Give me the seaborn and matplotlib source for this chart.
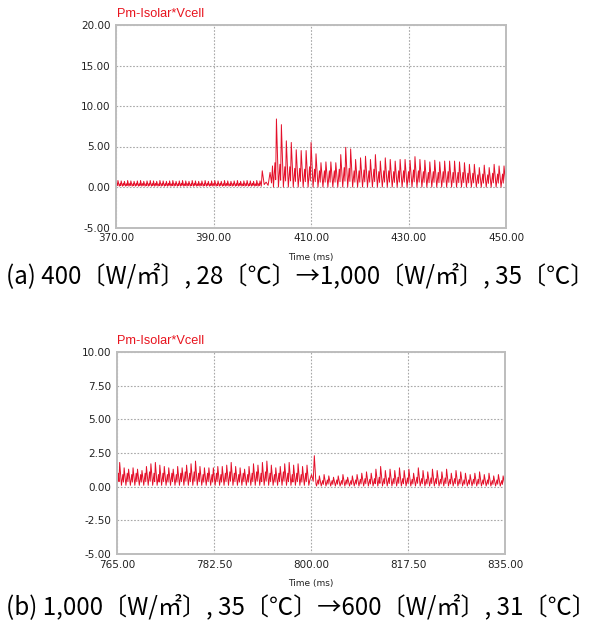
import numpy as np
import pandas as pd
import matplotlib.pyplot as plt
import seaborn as sns

# ---- (a) 400 W/m2, 28C -> 1000 W/m2, 35C  (370 ~ 450 ms) ----
a_xticks = [370, 390, 410, 430, 450]
a_yticks = [-5, 0, 5, 10, 15, 20]
# low ripple before the step (peak / secondary hump per cycle)
a_low_peaks = [0.8, 0.75, 0.7, 0.8, 0.75, 0.7, 0.75, 0.8, 0.7, 0.75, 0.8, 0.75, 0.7, 0.8, 0.75,
               0.7, 0.75, 0.8, 0.7, 0.75, 0.8, 0.75, 0.7, 0.8, 0.75, 0.7, 0.75, 0.8, 0.7, 0.75,
               0.8, 0.75, 0.7, 0.8, 0.75, 0.7, 0.75, 0.8, 0.7, 0.75, 0.8, 0.75, 0.7, 0.8, 0.75]
a_low_subs = [0.45, 0.4, 0.45, 0.4, 0.45, 0.4, 0.45, 0.4, 0.45, 0.4, 0.45, 0.4, 0.45, 0.4, 0.45,
              0.4, 0.45, 0.4, 0.45, 0.4, 0.45, 0.4, 0.45, 0.4, 0.45, 0.4, 0.45, 0.4, 0.45, 0.4,
              0.45, 0.4, 0.45, 0.4, 0.45, 0.4, 0.45, 0.4, 0.45, 0.4, 0.45, 0.4, 0.45, 0.4, 0.45]
# transient at the step
a_step_t = [400.0, 400.4, 400.8, 401.2, 401.6, 401.9, 402.1]
a_step_v = [2.0, 0.3, 0.6, 0.2, 1.8, 0.5, 2.6]
# ripple after the step
a_high_peaks = [8.4, 7.7, 5.7, 5.5, 4.6, 4.5, 4.5, 5.5, 4.1, 3.0, 3.1, 3.1, 3.0, 4.0, 4.9, 4.7,
                3.4, 3.6, 3.8, 3.4, 4.0, 3.2, 3.6, 3.4, 3.2, 3.4, 3.4, 3.3, 3.75, 3.4, 3.3, 3.1,
                3.3, 3.1, 3.2, 3.2, 3.2, 3.1, 3.0, 2.8, 2.8, 2.4, 2.7, 2.4, 2.8, 2.6, 2.6]
a_high_subs = [3.0, 2.8, 2.5, 2.5, 2.3, 2.3, 2.2, 2.5, 2.2, 2.0, 2.0, 2.0, 2.0, 2.2, 2.4, 2.3,
               2.0, 2.0, 2.1, 2.0, 2.2, 1.9, 2.0, 2.0, 1.9, 2.0, 2.0, 1.9, 2.1, 2.0, 1.9, 1.8,
               1.9, 1.8, 1.9, 1.9, 1.8, 1.8, 1.8, 1.7, 1.7, 1.5, 1.6, 1.5, 1.7, 1.6, 1.6]

# ---- (b) 1000 W/m2, 35C -> 600 W/m2, 31C  (765 ~ 835 ms) ----
b_xticks = [765, 782.5, 800, 817.5, 835]
b_yticks = [-5, -2.5, 0, 2.5, 5, 7.5, 10]
b_high_peaks = [1.8, 1.4, 1.3, 1.4, 1.3, 1.2, 1.5, 1.7, 1.8, 1.6, 1.5, 1.4, 1.3, 1.5, 1.4,
                1.6, 1.7, 1.9, 1.5, 1.4, 1.4, 1.4, 1.5, 1.5, 1.6, 1.8, 1.5, 1.4, 1.3, 1.5,
                1.7, 1.6, 1.8, 1.9, 1.6, 1.4, 1.5, 1.7, 1.8, 1.6, 1.7, 1.5, 1.6]
b_high_subs = [1.0, 0.9, 1.0, 0.9, 1.0, 0.9, 1.0, 1.1, 1.0, 0.9, 1.0, 0.9, 1.0, 0.9, 1.0,
               1.1, 1.0, 1.1, 1.0, 0.9, 1.0, 0.9, 1.0, 0.9, 1.0, 1.1, 1.0, 0.9, 1.0, 0.9,
               1.0, 1.1, 1.0, 1.1, 1.0, 0.9, 1.0, 1.1, 1.0, 0.9, 1.0, 0.9, 1.0]
b_step_t = [799.8, 800.1, 800.4, 800.6, 800.9]
b_step_v = [0.5, 0.9, 0.4, 2.3, 0.2]
b_low_peaks = [0.8, 0.9, 0.8, 0.7, 0.8, 0.9, 0.7, 0.8, 0.9, 1.0, 1.1, 1.0, 1.3, 1.5, 1.2,
               1.3, 1.2, 1.4, 1.2, 1.3, 1.0, 1.4, 1.2, 1.1, 1.3, 1.2, 1.1, 1.3, 1.0, 1.2,
               1.1, 1.0, 0.9, 1.0, 1.1, 0.9, 1.0, 0.8, 0.9, 0.8]
b_low_subs = [0.5, 0.45, 0.5, 0.45, 0.5, 0.45, 0.5, 0.45, 0.5, 0.55, 0.6, 0.55, 0.6, 0.7, 0.6,
              0.65, 0.6, 0.7, 0.6, 0.65, 0.55, 0.7, 0.6, 0.55, 0.65, 0.6, 0.55, 0.65, 0.55, 0.6,
              0.55, 0.5, 0.5, 0.55, 0.55, 0.5, 0.5, 0.45, 0.5, 0.45]


def ripple(t0, t1, peaks, subs, floor):
    # one cycle: floor -> small hump -> dip -> main spike -> back to floor
    n = len(peaks)
    edges = np.linspace(t0, t1, n + 1)
    dt = edges[1] - edges[0]
    tt, yy = [], []
    for k in range(n):
        s = edges[k]
        tt += [s, s + 0.3 * dt, s + 0.45 * dt, s + 0.6 * dt]
        yy += [floor, subs[k], floor + 0.3 * (subs[k] - floor), peaks[k]]
    tt.append(t1)
    yy.append(floor)
    return tt, yy


t1, y1 = ripple(370.0, 399.8, a_low_peaks, a_low_subs, 0.1)
t2, y2 = ripple(402.3, 450.0, a_high_peaks, a_high_subs, 0.0)
df_a = pd.DataFrame({'t': t1 + a_step_t + t2, 'p': y1 + a_step_v + y2})

t3, y3 = ripple(765.0, 799.6, b_high_peaks, b_high_subs, 0.1)
t4, y4 = ripple(801.0, 835.0, b_low_peaks, b_low_subs, 0.05)
df_b = pd.DataFrame({'t': t3 + b_step_t + t4, 'p': y3 + b_step_v + y4})

sns.set_style('white')
plt.rcParams['font.family'] = ['DejaVu Sans']

fig = plt.figure(figsize=(6.01, 6.25), dpi=100)
ax1 = fig.add_axes([116 / 601, 1 - 227.5 / 625, 390 / 601, 202.5 / 625])
ax2 = fig.add_axes([117 / 601, 1 - 554 / 625, 388 / 601, 202 / 625])

line_col = '#e4102a'
for ax, df, xt, yt in [(ax1, df_a, a_xticks, a_yticks), (ax2, df_b, b_xticks, b_yticks)]:
    sns.lineplot(data=df, x='t', y='p', ax=ax, color=line_col, linewidth=0.7,
                 estimator=None, sort=False)
    ax.set_xlim(xt[0], xt[-1])
    ax.set_ylim(yt[0], yt[-1])
    ax.set_xticks(xt)
    ax.set_yticks(yt)
    ax.set_xticklabels([f'{v:.2f}' for v in xt])
    ax.set_yticklabels([f'{v:.2f}' for v in yt])
    ax.grid(True, linestyle=(0, (1.5, 1.5)), color='#a8a8a8', linewidth=0.8)
    for sp in ax.spines.values():
        sp.set_color('#bdbdbd')
        sp.set_linewidth(1.4)
    ax.tick_params(length=0, labelsize=7.5, colors='#222222', pad=4)
    ax.set_xlabel('Time (ms)', fontsize=6.5, labelpad=7, color='#222222')
    ax.set_ylabel('')

fig.text(117 / 601, 1 - 17 / 625, 'Pm-Isolar*Vcell', color='#e8141e', fontsize=9.2,
         family='Liberation Sans', va='baseline', ha='left')
fig.text(117 / 601, 1 - 344 / 625, 'Pm-Isolar*Vcell', color='#e8141e', fontsize=9.2,
         family='Liberation Sans', va='baseline', ha='left')

cjk = ['Noto Sans CJK KR', 'DejaVu Sans']
fig.text(0.5, 1 - 276 / 625, '(a) 400〔W/㎡〕, 28〔℃〕→1,000〔W/㎡〕, 35〔℃〕',
         fontsize=17.4, family=cjk, color='black', ha='center', va='center')
fig.text(0.5, 1 - 607 / 625, '(b) 1,000〔W/㎡〕, 35〔℃〕→600〔W/㎡〕, 31〔℃〕',
         fontsize=17.4, family=cjk, color='black', ha='center', va='center')

fig.savefig('out.png', dpi=100)
